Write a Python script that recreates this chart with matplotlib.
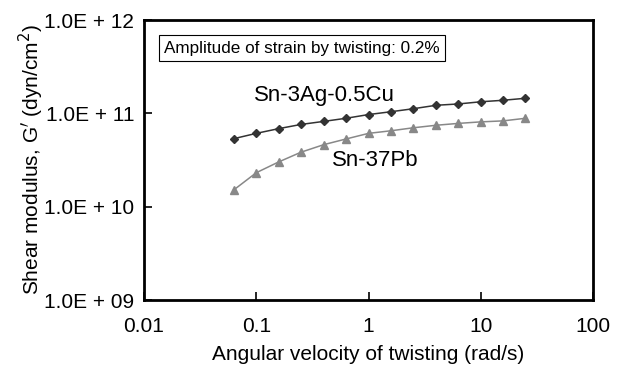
import matplotlib
matplotlib.use("Agg")
import matplotlib.pyplot as plt
from matplotlib.ticker import FixedLocator, NullLocator

plt.rcParams['font.family'] = ['Liberation Sans', 'DejaVu Sans']

freq = [0.063, 0.1, 0.158, 0.25, 0.4, 0.63, 1.0, 1.58, 2.5, 4.0, 6.3, 10.0, 15.8, 25.0]
sn_ag_cu = [5.35e10, 6.1e10, 6.85e10, 7.6e10, 8.2e10, 8.85e10, 9.7e10,
            1.04e11, 1.12e11, 1.22e11, 1.26e11, 1.33e11, 1.38e11, 1.45e11]
sn_pb = [1.51e10, 2.31e10, 3.01e10, 3.83e10, 4.62e10, 5.31e10, 6.1e10,
         6.5e10, 7.0e10, 7.45e10, 7.8e10, 8.1e10, 8.3e10, 8.85e10]

xticks = [0.01, 0.1, 1, 10, 100]
xticklabels = ["0.01", "0.1", "1", "10", "100"]
yticks = [1e9, 1e10, 1e11, 1e12]
yticklabels = ["1.0E + 09", "1.0E + 10", "1.0E + 11", "1.0E + 12"]

fig = plt.figure(figsize=(6.24, 3.69), dpi=100)
ax = fig.add_axes([144/624, 1 - 300/369, (593-144)/624, (300-20)/369])

ax.plot(freq, sn_ag_cu, color='#333333', marker='D', markersize=4.5, lw=1.1)
ax.plot(freq, sn_pb, color='#888888', marker='^', markersize=6, lw=1.1)

ax.set_xscale('log')
ax.set_yscale('log')
ax.set_xlim(0.01, 100)
ax.set_ylim(1e9, 1e12)
ax.xaxis.set_major_locator(FixedLocator(xticks))
ax.xaxis.set_minor_locator(NullLocator())
ax.yaxis.set_major_locator(FixedLocator(yticks))
ax.yaxis.set_minor_locator(NullLocator())
ax.set_xticklabels(xticklabels)
ax.set_yticklabels(yticklabels)
ax.tick_params(direction='in', length=6, width=1.2, labelsize=15)
ax.tick_params(axis='x', pad=12)
ax.tick_params(axis='y', pad=7)
for s in ax.spines.values():
    s.set_linewidth(2)

ax.set_xlabel("Angular velocity of twisting (rad/s)", fontsize=15, labelpad=7)
ax.set_ylabel("Shear modulus, G$'$ (dyn/cm$^2$)", fontsize=15, labelpad=-1)

ax.text(0.045, 0.9, "Amplitude of strain by twisting: 0.2%", transform=ax.transAxes,
        fontsize=12.3, va='center', ha='left',
        bbox=dict(boxstyle='square,pad=0.3', fc='white', ec='black', lw=0.8))
ax.text(0.245, 0.729, "Sn-3Ag-0.5Cu", transform=ax.transAxes, fontsize=16, va='center', ha='left')
ax.text(0.418, 0.50, "Sn-37Pb", transform=ax.transAxes, fontsize=16, va='center', ha='left')

fig.savefig("out.png", dpi=100)
